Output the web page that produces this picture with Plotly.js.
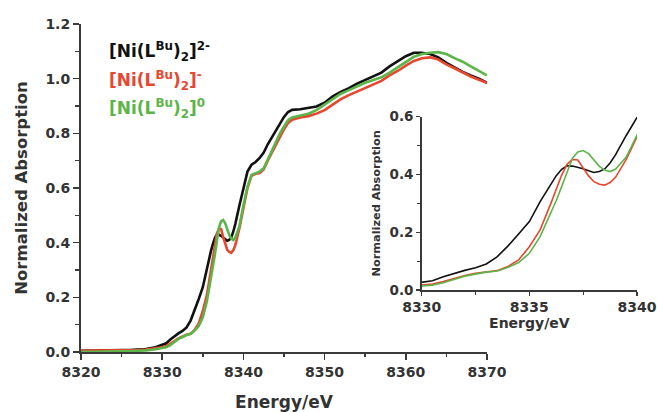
<!DOCTYPE html>
<html>
<head>
<meta charset="utf-8">
<script src="https://cdn.plot.ly/plotly-3.0.1.min.js"></script>
<style>
  html, body { margin: 0; padding: 0; background: #fff; }
  #chart { width: 657px; height: 412px; }
</style>
</head>
<body>
<div id="chart"></div>
<script>
// Ni K-edge XANES spectra of the three oxidation levels
const energy = [
  8320, 8321, 8322, 8323, 8324, 8325, 8326, 8327, 8328, 8329, 8330,
  8330.5, 8331, 8331.5, 8332, 8332.5, 8333, 8333.5, 8334, 8334.5, 8335,
  8335.5, 8336, 8336.25, 8336.5, 8336.75, 8337, 8337.25, 8337.5, 8337.75, 8338,
  8338.25, 8338.5, 8338.75, 8339, 8339.5, 8340,
  8340.5, 8341, 8341.5, 8342, 8342.5, 8343, 8343.5, 8344, 8344.5, 8345, 8345.5, 8346,
  8347, 8348, 8349, 8350, 8351, 8352, 8353, 8354, 8355, 8356, 8357, 8358,
  8359, 8360, 8361, 8362, 8363, 8364, 8365, 8366, 8367, 8368, 8369, 8370
];

const dianion = [
  0.004, 0.005, 0.005, 0.006, 0.006, 0.007, 0.007, 0.008, 0.011, 0.016, 0.025,
  0.032, 0.046, 0.058, 0.068, 0.077, 0.090, 0.115, 0.152, 0.194, 0.237,
  0.306, 0.369, 0.396, 0.418, 0.430, 0.429, 0.425, 0.420, 0.413, 0.407,
  0.410, 0.419, 0.440, 0.468, 0.535, 0.600,
  0.660, 0.685, 0.695, 0.710, 0.730, 0.760, 0.785, 0.810, 0.835, 0.860, 0.878, 0.886,
  0.888, 0.892, 0.898, 0.912, 0.935, 0.952, 0.965, 0.982, 0.995, 1.008, 1.022, 1.045,
  1.065, 1.082, 1.095, 1.095, 1.090, 1.078, 1.058, 1.040, 1.025, 1.012, 1.000, 0.985
];

const monoanion = [
  0.004, 0.005, 0.005, 0.005, 0.006, 0.006, 0.006, 0.007, 0.009, 0.012, 0.017,
  0.021, 0.029, 0.040, 0.050, 0.058, 0.063, 0.067, 0.081, 0.104, 0.150,
  0.208, 0.300, 0.350, 0.398, 0.435, 0.452, 0.450, 0.421, 0.395, 0.375,
  0.366, 0.363, 0.372, 0.390, 0.452, 0.530,
  0.600, 0.645, 0.652, 0.655, 0.668, 0.700, 0.730, 0.760, 0.790, 0.815, 0.838, 0.850,
  0.858, 0.863, 0.872, 0.885, 0.905, 0.925, 0.940, 0.953, 0.965, 0.978, 0.992, 1.012,
  1.028, 1.048, 1.065, 1.075, 1.078, 1.070, 1.052, 1.038, 1.022, 1.008, 0.996, 0.985
];

const neutral = [
  0.000, 0.001, 0.001, 0.002, 0.002, 0.003, 0.003, 0.004, 0.006, 0.009, 0.014,
  0.017, 0.025, 0.037, 0.048, 0.055, 0.062, 0.066, 0.078, 0.095, 0.127,
  0.185, 0.265, 0.310, 0.358, 0.410, 0.456, 0.478, 0.483, 0.472, 0.448,
  0.428, 0.415, 0.410, 0.418, 0.460, 0.536,
  0.605, 0.648, 0.655, 0.660, 0.672, 0.705, 0.738, 0.770, 0.800, 0.825, 0.848, 0.858,
  0.865, 0.872, 0.885, 0.905, 0.925, 0.945, 0.958, 0.972, 0.985, 0.995, 1.005, 1.022,
  1.042, 1.062, 1.080, 1.090, 1.095, 1.097, 1.090, 1.075, 1.062, 1.045, 1.028, 1.012
];

const seriesNames = [
  '[Ni(L<sup>Bu</sup>)<sub>2</sub>]<sup>2-</sup>',
  '[Ni(L<sup>Bu</sup>)<sub>2</sub>]<sup>-</sup>',
  '[Ni(L<sup>Bu</sup>)<sub>2</sub>]<sup>0</sup>'
];
const seriesValues = [dianion, monoanion, neutral];
const seriesColors = ['#111111', '#e8462f', '#5cb548'];

const mainXTicks = [8320, 8330, 8340, 8350, 8360, 8370];
const mainYTicks = [0.0, 0.2, 0.4, 0.6, 0.8, 1.0, 1.2];
const insetXTicks = [8330, 8335, 8340];
const insetYTicks = [0.0, 0.2, 0.4, 0.6];

const FONT = 'DejaVu Sans, Arial, sans-serif';
const TXT = '#333333';

const traces = [];
seriesValues.forEach((vals, i) => {
  traces.push({
    x: energy, y: vals, type: 'scatter', mode: 'lines', name: seriesNames[i],
    line: {color: seriesColors[i], width: 2.6}, xaxis: 'x', yaxis: 'y',
    showlegend: false, hoverinfo: 'skip'
  });
});
seriesValues.forEach((vals, i) => {
  traces.push({
    x: energy, y: vals, type: 'scatter', mode: 'lines', name: seriesNames[i],
    line: {color: seriesColors[i], width: 1.6}, xaxis: 'x2', yaxis: 'y2',
    showlegend: false, hoverinfo: 'skip'
  });
});

function axisBase(extra) {
  return Object.assign({
    showline: true, linecolor: '#3a3a3a', linewidth: 2,
    ticks: 'outside', tickcolor: '#3a3a3a', tickwidth: 1.6,
    showgrid: false, zeroline: false, mirror: false,
    tickfont: {family: FONT, size: 14, color: TXT, weight: 'bold'}
  }, extra);
}

const layout = {
  width: 657, height: 412,
  margin: {l: 81, r: 20, t: 24, b: 60},
  paper_bgcolor: '#ffffff', plot_bgcolor: 'rgba(0,0,0,0)',
  showlegend: false,
  xaxis: axisBase({
    domain: [0, 0.7302], range: [8320, 8370], anchor: 'y',
    tickmode: 'array', tickvals: mainXTicks, ticktext: mainXTicks.map(String),
    ticklen: 6, minor: {dtick: 5, ticks: 'outside', ticklen: 3, tickcolor: '#3a3a3a', tickwidth: 1.4},
    title: {text: 'Energy/eV', standoff: 17, font: {family: FONT, size: 17, color: TXT, weight: 'bold'}}
  }),
  yaxis: axisBase({
    domain: [0, 1], range: [0, 1.2], anchor: 'x',
    tickmode: 'array', tickvals: mainYTicks, ticktext: mainYTicks.map(v => v.toFixed(1)),
    ticklen: 6, minor: {dtick: 0.1, ticks: 'outside', ticklen: 4, tickcolor: '#3a3a3a', tickwidth: 1.4},
    title: {text: 'Normalized Absorption', standoff: 14, font: {family: FONT, size: 16.5, color: TXT, weight: 'bold'}}
  }),
  xaxis2: axisBase({
    domain: [0.6128, 1.0], range: [8330, 8340], anchor: 'y2',
    linewidth: 1.5, tickwidth: 1.2,
    tickmode: 'array', tickvals: insetXTicks, ticktext: insetXTicks.map(String),
    ticklen: 4, minor: {dtick: 2.5, ticks: 'outside', ticklen: 3, tickcolor: '#3a3a3a', tickwidth: 1.1},
    title: {text: 'Energy/eV', standoff: 3, font: {family: FONT, size: 14, color: TXT, weight: 'bold'}}
  }),
  yaxis2: axisBase({
    domain: [0.189, 0.7174], range: [0, 0.6], anchor: 'x2',
    linewidth: 1.5, tickwidth: 1.2,
    tickmode: 'array', tickvals: insetYTicks, ticktext: insetYTicks.map(v => v.toFixed(1)),
    tickfont: {family: FONT, size: 13.5, color: TXT, weight: 'bold'},
    ticklen: 4, minor: {dtick: 0.1, ticks: 'outside', ticklen: 3, tickcolor: '#3a3a3a', tickwidth: 1.1},
    title: {text: 'Normalized Absorption', standoff: 6, font: {family: FONT, size: 11.3, color: TXT, weight: 'bold'}}
  }),
  annotations: seriesNames.map((name, i) => ({
    text: name, xref: 'paper', yref: 'paper',
    x: 0.0468, y: [0.916, 0.829, 0.742][i],
    xanchor: 'left', yanchor: 'middle', showarrow: false,
    font: {family: FONT, size: 17, color: seriesColors[i], weight: 'bold'}
  }))
};

Plotly.newPlot('chart', traces, layout, {staticPlot: true, displayModeBar: false});
</script>
</body>
</html>
